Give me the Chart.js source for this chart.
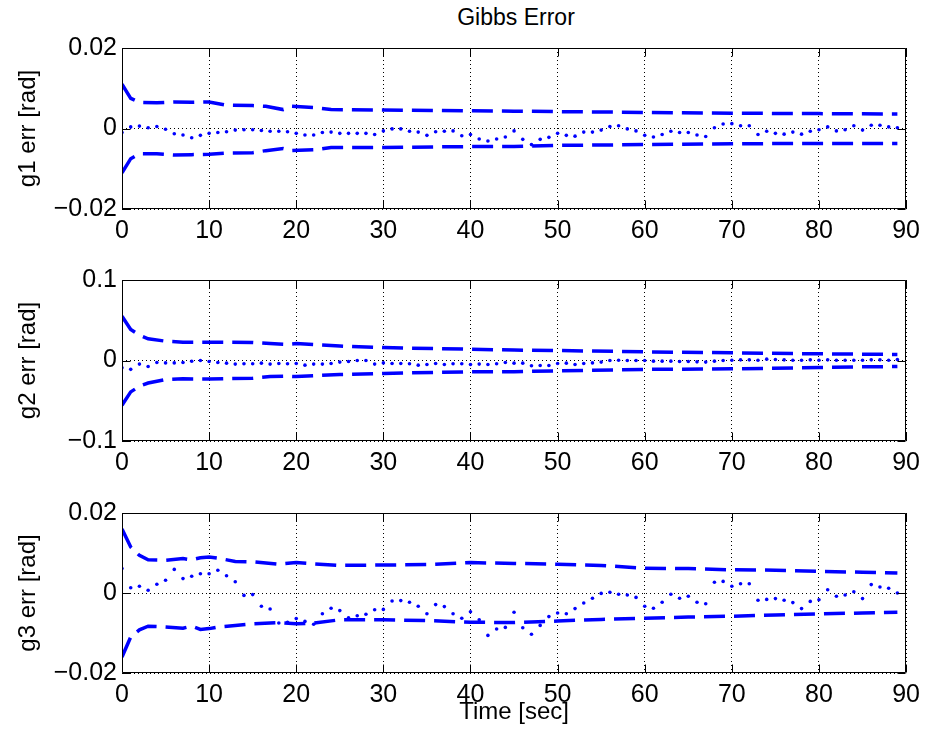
<!DOCTYPE html>
<html>
<head>
<meta charset="utf-8">
<script src="https://cdn.jsdelivr.net/npm/chart.js@4/dist/chart.umd.min.js"></script>
<style>
  body { margin: 0; background: #fff; width: 927px; height: 734px; position: relative; overflow: hidden; }
  canvas { position: absolute; left: 0; }
  #title { position: absolute; left: 122px; width: 788px; top: 4px; text-align: center;
           font: 23px "Liberation Sans", Helvetica, Arial, sans-serif; line-height: 26px; color: #000; }
</style>
</head>
<body>
<div id="title">Gibbs Error</div>
<canvas id="c1" width="927" height="250" style="top:0px"></canvas>
<canvas id="c2" width="927" height="242" style="top:240px"></canvas>
<canvas id="c3" width="927" height="253" style="top:480px"></canvas>
<script>
// sample times of the estimate (sec)
const sampleTimes = [0,1,2,3,4,5,6,7,8,9,10,11,12,13,14,15,16,17,18,19,20,21,22,23,24,25,26,27,28,29,
  30,31,32,33,34,35,36,37,38,39,40,41,42,43,44,45,46,47,48,49,50,51,52,53,54,55,56,57,58,59,
  60,61,62,63,64,65,66,67,68,69,70,71,72,73,74,75,76,77,78,79,80,81,82,83,84,85,86,87,88,89];

const xTicks = [0,10,20,30,40,50,60,70,80,90];

// g1
const g1Ticks = [-0.02, 0, 0.02];
const g1Err = [-0.0010,0.0004,0.0006,0.0002,0.0005,-0.0002,-0.0013,-0.0016,-0.0023,-0.0017,
  -0.0012,-0.0010,-0.0008,-0.0004,-0.0003,-0.0003,-0.0005,-0.0007,-0.0007,-0.0008,
  -0.0012,-0.0016,-0.0016,-0.0010,-0.0009,-0.0012,-0.0012,-0.0012,-0.0012,-0.0015,
  -0.0006,-0.0001,-0.0001,-0.0007,-0.0009,-0.0017,-0.0008,-0.0007,-0.0006,-0.0018,
  -0.0015,-0.0026,-0.0031,-0.0026,-0.0021,-0.0006,-0.0027,-0.0040,-0.0027,-0.0022,
  -0.0012,-0.0017,-0.0019,-0.0009,-0.0009,-0.0004,0.0005,0.0007,-0.0001,-0.0006,
  -0.0017,-0.0021,-0.0015,-0.0007,-0.0010,-0.0010,-0.0016,-0.0020,0.0002,0.0011,
  0.0012,0.0007,0.0007,-0.0015,-0.0007,-0.0012,-0.0014,-0.0009,-0.0014,-0.0007,
  -0.0003,0.0004,-0.0006,-0.0003,0.0007,-0.0004,0.0008,0.0008,0.0004,0.0002];
const g1BoundT = [0,1,2,4,6,8,10,12,15,16.5,18.5,19.5,22,24,30,40,45,50,60,70,80,89];
const g1Upper = [0.011,0.0075,0.0065,0.0064,0.0066,0.0065,0.0066,0.0058,0.0057,0.0055,0.0047,0.0055,
  0.0052,0.0047,0.0046,0.0044,0.0043,0.0042,0.0040,0.0038,0.0037,0.0036];
const g1Lower = [-0.011,-0.0075,-0.0063,-0.0063,-0.0066,-0.0065,-0.0064,-0.0061,-0.0060,-0.0055,-0.0050,-0.0055,
  -0.0053,-0.0047,-0.0047,-0.0045,-0.0045,-0.0042,-0.0040,-0.0038,-0.0037,-0.0037];

// g2
const g2Ticks = [-0.1, 0, 0.1];
const g2Err = [-0.009,-0.011,-0.0045,-0.0075,-0.0025,-0.003,-0.003,-0.0025,-0.001,0,
  -0.0012,-0.0025,-0.0033,-0.0045,-0.004,-0.004,-0.0033,-0.0045,-0.0037,-0.004,
  -0.0037,-0.0058,-0.0045,-0.0045,-0.0037,-0.002,-0.0012,0,0,-0.0045,
  -0.003,-0.0037,-0.0037,-0.004,-0.0058,-0.005,-0.0037,-0.005,-0.004,-0.004,
  -0.005,-0.0045,-0.005,-0.004,-0.0025,-0.0033,-0.0033,-0.0066,-0.0062,-0.0062,
  -0.0037,-0.0033,-0.005,-0.0037,-0.003,-0.002,0,0.0004,0,0,
  0,-0.0008,-0.0008,-0.0008,-0.0012,-0.0012,-0.0017,-0.002,-0.0008,0,
  0.0004,0.0008,0.0008,0.0004,0.0017,0.0012,0.0008,0.0004,0.0004,0.0008,
  0.0004,0.0008,0.0004,0.0004,0.0004,0.0004,0.0008,0.0008,0.0004,0.0012];
const g2BoundT = [0,1,2,3,5,7,10,15,17,19,20,25,30,40,45,50,60,70,80,85,89];
const g2Upper = [0.055,0.0385,0.0315,0.027,0.024,0.0228,0.0228,0.0224,0.021,0.020,0.021,0.018,
  0.016,0.014,0.013,0.0124,0.0108,0.0095,0.0083,0.0079,0.0075];
const g2Lower = [-0.0555,-0.039,-0.032,-0.028,-0.0236,-0.0228,-0.023,-0.022,-0.020,-0.0195,-0.020,-0.0174,
  -0.016,-0.014,-0.014,-0.0128,-0.011,-0.0104,-0.0087,-0.0079,-0.0075];

// g3
const g3Ticks = [-0.02, 0, 0.02];
const g3Err = [0.0061,0.0013,0.0017,0.0007,0.0022,0.0032,0.0059,0.0036,0.0042,0.0048,
  0.0048,0.0057,0.0043,0.0028,-0.0006,-0.0004,-0.0033,-0.004,-0.0075,-0.0073,
  -0.0064,-0.0071,-0.0078,-0.0052,-0.0038,-0.0044,-0.0062,-0.0057,-0.0053,-0.0042,
  -0.0041,-0.002,-0.0019,-0.0023,-0.0033,-0.0052,-0.0029,-0.0034,-0.0052,-0.0063,
  -0.0047,-0.0067,-0.0106,-0.009,-0.0086,-0.0048,-0.0087,-0.0103,-0.0081,-0.0059,
  -0.005,-0.0052,-0.0039,-0.0025,-0.0013,-0.0001,0.0002,-0.0003,-0.0005,-0.0011,
  -0.0033,-0.0038,-0.0023,-0.0003,-0.0013,-0.0008,-0.0023,-0.0027,0.0027,0.0029,
  0.0017,0.0023,0.0023,-0.0018,-0.0016,-0.0014,-0.0018,-0.0024,-0.0039,-0.0021,
  -0.0017,0.0008,-0.0008,-0.0005,0.0003,-0.0014,0.0021,0.0015,0.0012,0];
const g3BoundT = [0,1,2,3,5,7,8,9,10,11,13,15,18,20,22,25,30,35,40,45,50,55,60,65,70,75,80,85,89];
const g3Upper = [0.016,0.0115,0.0094,0.0083,0.0082,0.0086,0.0083,0.0088,0.009,0.0087,0.0079,0.0078,0.0072,
  0.0076,0.0073,0.0069,0.007,0.0071,0.0076,0.0074,0.0072,0.0069,0.0062,0.0061,0.0058,0.0057,0.0054,0.0052,0.005];
const g3Lower = [-0.016,-0.011,-0.0092,-0.0083,-0.0085,-0.0088,-0.0083,-0.0091,-0.0089,-0.0085,-0.0081,-0.0077,-0.0074,
  -0.0077,-0.0075,-0.0067,-0.0067,-0.0069,-0.0073,-0.0074,-0.007,-0.0066,-0.0063,-0.006,-0.0058,-0.0055,-0.0052,-0.005,-0.0048];

const FONT = '"Liberation Sans", Helvetica, Arial, sans-serif';
const BLUE = '#0000ff';

// box around the axes plus small inward tick marks, like matlab
const framePlugin = {
  id: 'frame',
  afterDatasetsDraw(chart) {
    const { ctx, chartArea: a, scales } = chart;
    const l = Math.round(a.left) + 0.5, r = Math.round(a.right) - 0.5;
    const t = Math.round(a.top) + 0.5, b = Math.round(a.bottom) - 0.5;
    const len = 8;
    ctx.save();
    ctx.strokeStyle = '#000';
    ctx.lineWidth = 1;
    ctx.beginPath();
    ctx.rect(l, t, r - l, b - t);
    scales.x.ticks.forEach(tk => {
      const px = Math.round(scales.x.getPixelForValue(tk.value)) + 0.5;
      ctx.moveTo(px, b); ctx.lineTo(px, b - len);
      ctx.moveTo(px, t); ctx.lineTo(px, t + len);
    });
    scales.y.ticks.forEach(tk => {
      const py = Math.round(scales.y.getPixelForValue(tk.value)) + 0.5;
      ctx.moveTo(l, py); ctx.lineTo(l + len, py);
      ctx.moveTo(r, py); ctx.lineTo(r - len, py);
    });
    ctx.stroke();
    ctx.restore();
  }
};

function fmt(v) {
  if (Math.abs(v) < 1e-12) return '0';
  const s = String(Math.round(Math.abs(v) * 1000) / 1000);
  return v < 0 ? '\u2212' + s : s;
}

function makePanel(id, label, yTicks, err, boundT, upper, lower, padTop, xHeight, showXTitle) {
  const estPts = sampleTimes.map((t, i) => ({ x: t, y: err[i] }));
  const upPts = boundT.map((t, i) => ({ x: t, y: upper[i] }));
  const loPts = boundT.map((t, i) => ({ x: t, y: lower[i] }));
  const bound = pts => ({
    data: pts, borderColor: BLUE, borderWidth: 3.5, borderDash: [21, 9],
    pointRadius: 0, tension: 0, fill: false, borderCapStyle: 'butt'
  });
  new Chart(document.getElementById(id), {
    type: 'line',
    data: {
      datasets: [
        bound(upPts),
        bound(loPts),
        { data: estPts, showLine: false, pointRadius: 1.8, pointBackgroundColor: BLUE, pointBorderWidth: 0 }
      ]
    },
    options: {
      responsive: false,
      animation: false,
      layout: { padding: { top: padTop, right: 17, left: 0, bottom: 0 } },
      plugins: { legend: { display: false }, tooltip: { enabled: false } },
      scales: {
        x: {
          type: 'linear', min: 0, max: 90,
          afterBuildTicks: s => { s.ticks = xTicks.map(v => ({ value: v })); },
          afterFit: s => { s.height = xHeight; },
          ticks: { color: '#000', font: { family: FONT, size: 25 }, padding: 7, maxRotation: 0, autoSkip: false },
          grid: { color: '#000', lineWidth: 1, drawTicks: false },
          border: { display: false, dash: [1, 3] },
          title: { display: showXTitle, text: 'Time [sec]', color: '#000',
                   font: { family: FONT, size: 24 }, padding: { top: 0, bottom: 6 } }
        },
        y: {
          type: 'linear', min: yTicks[0], max: yTicks[yTicks.length - 1],
          afterBuildTicks: s => { s.ticks = yTicks.map(v => ({ value: v })); },
          afterFit: s => { s.width = 122; },
          ticks: { color: '#000', font: { family: FONT, size: 25 }, padding: 5, callback: v => fmt(v) },
          grid: { color: '#000', lineWidth: 1, drawTicks: false },
          border: { display: false, dash: [1, 3] },
          title: { display: true, text: label, color: '#000',
                   font: { family: FONT, size: 24 }, padding: { top: 14, bottom: 0 } }
        }
      }
    },
    plugins: [framePlugin]
  });
}

makePanel('c1', 'g1 err [rad]', g1Ticks, g1Err, g1BoundT, g1Upper, g1Lower, 48, 41, false);
makePanel('c2', 'g2 err [rad]', g2Ticks, g2Err, g2BoundT, g2Upper, g2Lower, 40, 41, false);
makePanel('c3', 'g3 err [rad]', g3Ticks, g3Err, g3BoundT, g3Upper, g3Lower, 33, 60, true);
</script>
</body>
</html>
